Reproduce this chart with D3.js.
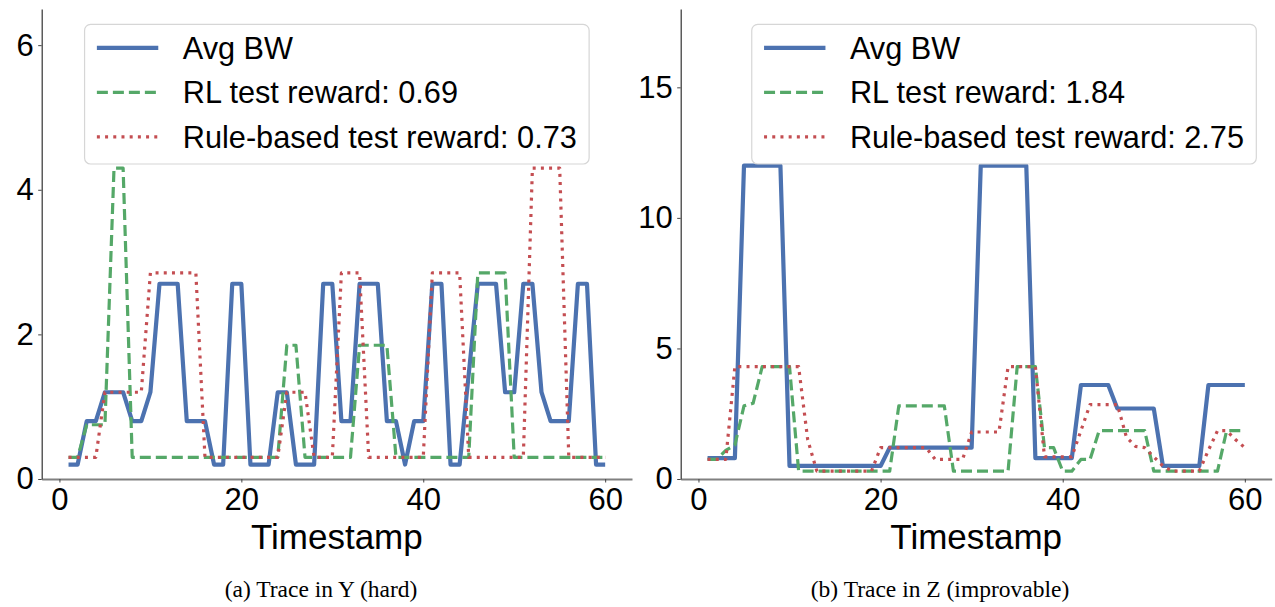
<!DOCTYPE html>
<html>
<head>
<meta charset="utf-8">
<script src="https://cdn.jsdelivr.net/npm/d3@7"></script>
<style>
  body { margin: 0; background: #fff; }
  svg text { font-family: "Liberation Sans", Arial, sans-serif; fill: #000; }
  svg text.caption { font-family: "Liberation Serif", "Times New Roman", serif; }
</style>
</head>
<body>
<div id="chart"></div>
<script>
// timestamps shared by both traces
const timestamps = [1, 2, 3, 4, 5, 6, 7, 8, 9, 10, 11, 12, 13, 14, 15, 16, 17, 18, 19, 20,
  21, 22, 23, 24, 25, 26, 27, 28, 29, 30, 31, 32, 33, 34, 35, 36, 37, 38, 39, 40,
  41, 42, 43, 44, 45, 46, 47, 48, 49, 50, 51, 52, 53, 54, 55, 56, 57, 58, 59, 60];

// (a) Trace in Y
const yAvgBW = [0.2, 0.2, 0.8, 0.8, 1.2, 1.2, 1.2, 0.8, 0.8, 1.2,
  2.7, 2.7, 2.7, 0.8, 0.8, 0.8, 0.2, 0.2, 2.7, 2.7,
  0.2, 0.2, 0.2, 1.2, 1.2, 0.2, 0.2, 0.2, 2.7, 2.7,
  0.8, 0.8, 2.7, 2.7, 2.7, 0.8, 0.8, 0.2, 0.8, 0.8,
  2.7, 2.7, 0.2, 0.2, 1.45, 2.7, 2.7, 2.7, 1.2, 1.2,
  2.7, 2.7, 1.2, 0.8, 0.8, 0.8, 2.7, 2.7, 0.2, 0.2];
const yRL = [0.3, 0.3, 0.75, 0.75, 0.75, 4.3, 4.3, 0.3, 0.3, 0.3,
  0.3, 0.3, 0.3, 0.3, 0.3, 0.3, 0.3, 0.3, 0.3, 0.3,
  0.3, 0.3, 0.3, 0.3, 1.85, 1.85, 0.3, 0.3, 0.3, 0.3,
  0.3, 0.3, 1.85, 1.85, 1.85, 1.85, 0.3, 0.3, 0.3, 0.3,
  0.3, 0.3, 0.3, 0.3, 0.3, 2.85, 2.85, 2.85, 2.85, 0.3,
  0.3, 0.3, 0.3, 0.3, 0.3, 0.3, 0.3, 0.3, 0.3, 0.3];
const yRule = [0.3, 0.3, 0.3, 0.3, 1.2, 1.2, 1.2, 1.2, 1.2, 2.85,
  2.85, 2.85, 2.85, 2.85, 2.85, 0.3, 0.3, 0.3, 0.3, 0.3,
  0.3, 0.3, 0.3, 0.3, 1.2, 1.2, 1.2, 0.3, 0.3, 0.3,
  2.85, 2.85, 2.85, 0.3, 0.3, 0.3, 0.3, 0.3, 0.3, 0.3,
  2.85, 2.85, 2.85, 2.85, 0.3, 0.3, 0.3, 0.3, 0.3, 0.3,
  0.3, 4.3, 4.3, 4.3, 4.3, 0.3, 0.3, 0.3, 0.3, 0.3];

// (b) Trace in Z
const zAvgBW = [0.8, 0.8, 0.8, 0.8, 12, 12, 12, 12, 12, 0.5,
  0.5, 0.5, 0.5, 0.5, 0.5, 0.5, 0.5, 0.5, 0.5, 0.5,
  1.2, 1.2, 1.2, 1.2, 1.2, 1.2, 1.2, 1.2, 1.2, 1.2,
  12, 12, 12, 12, 12, 12, 0.8, 0.8, 0.8, 0.8,
  0.8, 3.6, 3.6, 3.6, 3.6, 2.7, 2.7, 2.7, 2.7, 2.7,
  0.5, 0.5, 0.5, 0.5, 0.5, 3.6, 3.6, 3.6, 3.6, 3.6];
const zRL = [0.75, 0.75, 1.1, 1.3, 2.8, 2.9, 4.3, 4.3, 4.3, 4.3,
  0.3, 0.3, 0.3, 0.3, 0.3, 0.3, 0.3, 0.3, 0.3, 0.3,
  0.3, 2.8, 2.8, 2.8, 2.8, 2.8, 2.8, 0.3, 0.3, 0.3,
  0.3, 0.3, 0.3, 0.3, 4.3, 4.3, 4.3, 1.2, 1.2, 0.3,
  0.3, 0.75, 0.75, 1.85, 1.85, 1.85, 1.85, 1.85, 1.85, 0.3,
  0.3, 0.3, 0.3, 0.3, 0.3, 0.3, 0.3, 1.85, 1.85, 1.85];
const zRule = [0.75, 0.75, 0.75, 4.3, 4.3, 4.3, 4.3, 4.3, 4.3, 4.3,
  4.3, 1.5, 0.3, 0.3, 0.3, 0.3, 0.3, 0.3, 0.3, 1.2,
  1.2, 1.2, 1.2, 1.2, 1.2, 0.75, 0.75, 0.75, 0.75, 1.8,
  1.8, 1.8, 1.8, 4.3, 4.3, 4.3, 4.3, 0.85, 0.85, 0.85,
  0.85, 1.85, 2.85, 2.85, 2.85, 2.85, 1.6, 1.25, 1.2, 0.85,
  0.5, 0.3, 0.3, 0.3, 0.3, 1.1, 1.85, 1.85, 1.5, 1.2];

const xTicks = [0, 20, 40, 60];
const yTicksY = [0, 2, 4, 6];
const yTicksZ = [0, 5, 10, 15];
const legendY = ['Avg BW', 'RL test reward: 0.69', 'Rule-based test reward: 0.73'];
const legendZ = ['Avg BW', 'RL test reward: 1.84', 'Rule-based test reward: 2.75'];
const captions = ['(a) Trace in Y (hard)', '(b) Trace in Z (improvable)'];

const W = 1275, H = 607;
const plotTop = 9, plotBottom = 479;
const tickFont = 31, labelFont = 35, legendFont = 30.7;

// line styles: solid blue, dashed green, dotted red
const styles = [
  { color: '#4C72B0', width: 4.2, dash: null },
  { color: '#55A868', width: 3.2, dash: '11,5' },
  { color: '#C44E52', width: 3.2, dash: '3,5.2' },
];

const svg = d3.select('#chart').append('svg')
  .attr('width', W)
  .attr('height', H);

svg.append('rect').attr('width', W).attr('height', H).attr('fill', '#fff');

function drawPanel(opts) {
  const { x0, x1, yMax, yTicks, series, labels, legendAlign, caption } = opts;

  const x = d3.scaleLinear().domain([-1.95, 62.95]).range([x0, x1]);
  const y = d3.scaleLinear().domain([0, yMax]).range([plotBottom, plotTop]);

  const g = svg.append('g');

  // x axis
  const xAxis = g.append('g')
    .attr('transform', `translate(0,${plotBottom})`)
    .call(d3.axisBottom(x).tickValues(xTicks).tickFormat(d3.format('d'))
      .tickSize(3.5).tickSizeOuter(0).tickPadding(5.5));
  xAxis.select('.domain').attr('stroke', '#808080').attr('stroke-width', 1.8);
  xAxis.selectAll('.tick line').attr('stroke', '#444').attr('stroke-width', 1);
  xAxis.selectAll('text').attr('font-size', tickFont);
  xAxis.attr('font-family', null).attr('font-size', null);

  // y axis
  const yAxis = g.append('g')
    .attr('transform', `translate(${x0},0)`)
    .call(d3.axisLeft(y).tickValues(yTicks).tickFormat(d3.format('d'))
      .tickSize(3.5).tickSizeOuter(0).tickPadding(4.5));
  yAxis.select('.domain').attr('stroke', '#333').attr('stroke-width', 1.2);
  yAxis.selectAll('.tick line').attr('stroke', '#444').attr('stroke-width', 1);
  yAxis.selectAll('text').attr('font-size', tickFont);
  yAxis.attr('font-family', null).attr('font-size', null);

  // x label
  g.append('text')
    .attr('x', (x0 + x1) / 2)
    .attr('y', 549)
    .attr('text-anchor', 'middle')
    .attr('font-size', labelFont)
    .text('Timestamp');

  // lines
  const line = d3.line()
    .x((d, i) => x(timestamps[i]))
    .y(d => y(d));

  series.forEach((s, i) => {
    g.append('path')
      .datum(s)
      .attr('d', line)
      .attr('fill', 'none')
      .attr('stroke', styles[i].color)
      .attr('stroke-width', styles[i].width)
      .attr('stroke-linejoin', 'round')
      .attr('stroke-dasharray', styles[i].dash);
  });

  // legend
  const pad = 12.3, handleLen = 61.4, handlePad = 24.5, rowGap = 44.5;
  const leg = g.append('g');
  const rows = leg.selectAll('g.row')
    .data(labels)
    .join('g')
    .attr('class', 'row');
  const texts = rows.append('text')
    .attr('font-size', legendFont)
    .text(d => d);
  const textW = d3.max(texts.nodes(), n => n.getComputedTextLength());
  const boxW = pad + handleLen + handlePad + textW + pad;
  const boxH = 139.6;
  const boxTop = plotTop + 15.4;
  const boxLeft = legendAlign === 'center' ? (x0 + x1) / 2 - boxW / 2 : x1 - 15.4 - boxW;

  leg.insert('rect', ':first-child')
    .attr('x', boxLeft)
    .attr('y', boxTop)
    .attr('width', boxW)
    .attr('height', boxH)
    .attr('rx', 6)
    .attr('fill', '#fff')
    .attr('fill-opacity', 0.8)
    .attr('stroke', '#d6d6d6')
    .attr('stroke-width', 1.2);

  rows.each(function (d, i) {
    const cy = boxTop + 23.5 + i * rowGap;
    const row = d3.select(this);
    row.append('line')
      .attr('x1', boxLeft + pad)
      .attr('x2', boxLeft + pad + handleLen)
      .attr('y1', cy)
      .attr('y2', cy)
      .attr('stroke', styles[i].color)
      .attr('stroke-width', styles[i].width)
      .attr('stroke-dasharray', styles[i].dash);
    row.select('text')
      .attr('x', boxLeft + pad + handleLen + handlePad)
      .attr('y', cy + 11);
  });

  // caption
  g.append('text')
    .attr('class', 'caption')
    .attr('x', opts.captionX)
    .attr('y', 597)
    .attr('text-anchor', 'middle')
    .attr('font-size', 23.5)
    .text(caption);
}

drawPanel({
  x0: 41.7, x1: 632, yMax: 6.5, yTicks: yTicksY,
  series: [yAvgBW, yRL, yRule], labels: legendY, legendAlign: 'center',
  caption: captions[0], captionX: 321,
});

drawPanel({
  x0: 680.7, x1: 1271.7, yMax: 18, yTicks: yTicksZ,
  series: [zAvgBW, zRL, zRule], labels: legendZ, legendAlign: 'right',
  caption: captions[1], captionX: 940,
});
</script>
</body>
</html>
